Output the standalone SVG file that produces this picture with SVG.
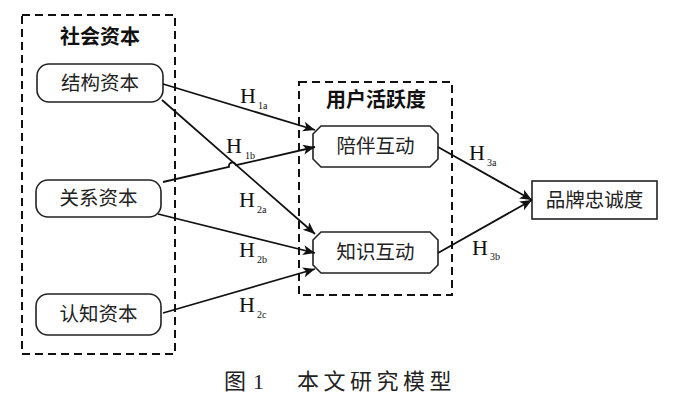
<svg xmlns="http://www.w3.org/2000/svg" width="700" height="407" viewBox="0 0 700 407">
<style>
.grp{fill:none;stroke:#111;stroke-width:2;stroke-dasharray:8 5}
.nd{fill:#fff;stroke:#222;stroke-width:1.6}
.cn{fill:none;stroke:#111;stroke-width:1.8}
.t{font-family:"Noto Sans CJK SC",sans-serif;font-size:19.5px;fill:#222;text-anchor:middle}
.tb{font-family:"Noto Sans CJK SC",sans-serif;font-size:20px;font-weight:bold;fill:#111;text-anchor:middle}
.h{font-family:"Liberation Serif",serif;font-size:22px;fill:#111}
.s{font-size:10px}
.cap{font-family:"Noto Sans CJK SC",sans-serif;font-size:22px;fill:#222}
</style>
<defs>
<marker id="ar" markerUnits="userSpaceOnUse" markerWidth="14" markerHeight="12" refX="12" refY="5" orient="auto">
<path d="M0,0 L12,5 L0,10 L3,5 Z" fill="#111"/>
</marker>
</defs>
<rect width="700" height="407" fill="#fff"/>
<g id="social-capital">
<rect class="grp" x="22" y="15" width="153" height="339"/>
<text class="tb" x="100" y="44">社会资本</text>
</g>
<g id="user-activity">
<rect class="grp" x="299" y="82" width="153" height="213"/>
<text class="tb" x="376" y="107">用户活跃度</text>
</g>
<g id="structural">
<rect class="nd" x="37" y="64" width="126" height="38" rx="12"/>
<text class="t" x="100" y="90">结构资本</text>
</g>
<g id="relational">
<rect class="nd" x="36" y="180" width="125" height="37" rx="12"/>
<text class="t" x="98.5" y="205">关系资本</text>
</g>
<g id="cognitive">
<rect class="nd" x="36" y="294" width="125" height="41" rx="12"/>
<text class="t" x="98.5" y="321">认知资本</text>
</g>
<g id="companion">
<polygon class="nd" points="321,126 430,126 438,134 438,159 430,167 321,167 313,159 313,134"/>
<text class="t" x="375.5" y="153">陪伴互动</text>
</g>
<g id="knowledge">
<polygon class="nd" points="321,232 430,232 438,240 438,265 430,273 321,273 313,265 313,240"/>
<text class="t" x="375.5" y="259">知识互动</text>
</g>
<g id="loyalty">
<rect class="nd" x="532" y="181" width="125" height="38"/>
<text class="t" x="594.5" y="207">品牌忠诚度</text>
</g>
<g id="connectors">
<line class="cn" x1="163" y1="84" x2="315" y2="130" marker-end="url(#ar)"/>
<line class="cn" x1="162" y1="100" x2="315" y2="234" marker-end="url(#ar)"/>
<path class="cn" d="M163,182 L229,166.8 A3.5,3.5 0 0 1 236,165.2 L315,147" marker-end="url(#ar)"/>
<line class="cn" x1="158" y1="214" x2="315" y2="253" marker-end="url(#ar)"/>
<line class="cn" x1="163" y1="313" x2="315" y2="269" marker-end="url(#ar)"/>
<line class="cn" x1="438" y1="147" x2="532" y2="200" marker-end="url(#ar)"/>
<line class="cn" x1="438" y1="253" x2="532" y2="200" marker-end="url(#ar)"/>
</g>
<g id="labels">
<text class="h" x="240" y="103">H<tspan class="s" dx="2" dy="6">1a</tspan></text>
<text class="h" x="226" y="153">H<tspan class="s" dx="3" dy="6">1b</tspan></text>
<text class="h" x="239" y="207">H<tspan class="s" dx="2" dy="6">2a</tspan></text>
<text class="h" x="239" y="257">H<tspan class="s" dx="2" dy="6">2b</tspan></text>
<text class="h" x="239" y="312">H<tspan class="s" dx="2" dy="6">2c</tspan></text>
<text class="h" x="469" y="160">H<tspan class="s" dx="2" dy="6">3a</tspan></text>
<text class="h" x="472" y="255">H<tspan class="s" dx="2" dy="5">3b</tspan></text>
</g>
<g id="caption">
<text class="cap" x="224" y="389">图</text>
<text class="cap" x="253" y="389" style="font-family:'Liberation Serif',serif">1</text>
<text class="cap" x="297" y="389" letter-spacing="4.5">本文研究模型</text>
</g>
</svg>
